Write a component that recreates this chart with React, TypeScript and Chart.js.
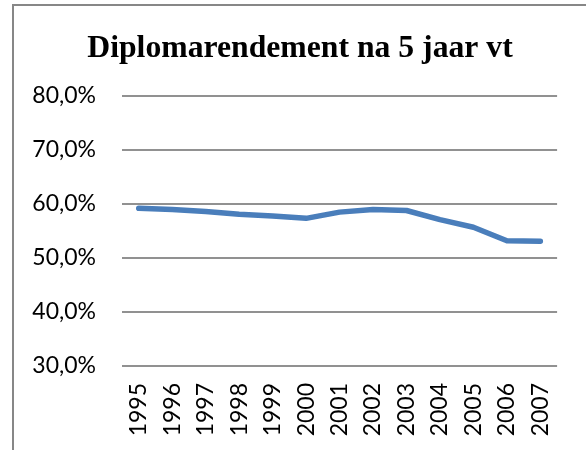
import React, { useEffect, useRef } from "react";
import { Chart, registerables } from "chart.js";

Chart.register(...registerables);

const TITLE = "Diplomarendement na 5 jaar vt";
const years = ["1995", "1996", "1997", "1998", "1999", "2000", "2001", "2002", "2003", "2004", "2005", "2006", "2007"];
const rendement = [59.2, 59.0, 58.6, 58.1, 57.8, 57.35, 58.5, 59.0, 58.8, 57.1, 55.7, 53.2, 53.1];
const yMin = 30;
const yMax = 80;
const yStep = 10;

const titleShift = {
  id: "titleShift",
  afterLayout(chart: any) {
    const t = chart.titleBlock;
    if (t) {
      t.left = 41;
      t.width = t.right - t.left;
    }
  },
};

export default function App() {
  const ref = useRef<HTMLCanvasElement | null>(null);

  useEffect(() => {
    if (!ref.current) return;
    const chart = new Chart(ref.current, {
      type: "line",
      data: {
        labels: years,
        datasets: [
          {
            data: rendement,
            borderColor: "#4a7ebb",
            backgroundColor: "#4a7ebb",
            borderWidth: 5.5,
            borderCapStyle: "round",
            borderJoinStyle: "round",
            pointRadius: 0,
            tension: 0,
            fill: false,
          },
        ],
      },
      plugins: [titleShift],
      options: {
        responsive: false,
        animation: false,
        layout: { padding: { left: 0, right: 27, top: 0, bottom: 0 } },
        plugins: {
          legend: { display: false },
          tooltip: { enabled: false },
          title: {
            display: true,
            text: TITLE,
            color: "#000",
            font: { family: "'Liberation Serif', 'Times New Roman', serif", size: 31.7, weight: "bold" },
            padding: { top: 30, bottom: 28 },
          },
        },
        scales: {
          x: {
            type: "category",
            offset: true,
            grid: { display: false, drawTicks: false },
            border: { display: false },
            ticks: {
              color: "#000",
              minRotation: 90,
              maxRotation: 90,
              padding: 17,
              autoSkip: false,
              font: { family: "Lato, 'Noto Sans', sans-serif", size: 23 },
            },
            afterFit: (scale: any) => {
              scale.height = 84;
            },
          },
          y: {
            min: yMin,
            max: yMax,
            grid: { color: "#919191", lineWidth: 2, drawTicks: false },
            border: { display: false },
            ticks: {
              stepSize: yStep,
              color: "#000",
              padding: 26,
              font: { family: "Lato, 'Noto Sans', sans-serif", size: 23 },
              callback: (v: any) => Number(v).toFixed(1).replace(".", ",") + "%",
            },
            afterFit: (scale: any) => {
              scale.width = 122;
            },
          },
        },
      },
    });
    return () => chart.destroy();
  }, []);

  return (
    <div style={{ position: "absolute", left: 0, top: 0, width: 586, height: 450, overflow: "hidden", background: "#fff" }}>
      <div
        style={{
          position: "absolute",
          left: 12,
          top: 4,
          width: 640,
          height: 520,
          border: "2px solid #878787",
          boxSizing: "border-box",
        }}
      />
      <canvas ref={ref} width={586} height={450} style={{ position: "absolute", left: 0, top: 0, display: "block" }} />
    </div>
  );
}
